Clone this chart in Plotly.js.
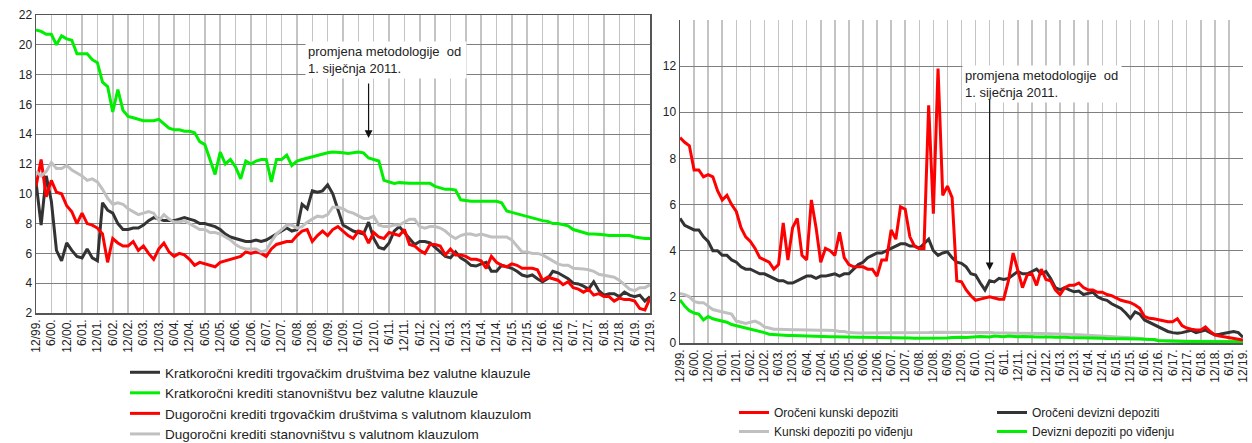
<!DOCTYPE html>
<html>
<head>
<meta charset="utf-8">
<script src="https://cdn.plot.ly/plotly-3.0.1.min.js"></script>
<style>html,body{margin:0;padding:0;background:#fff;}#chart{width:1252px;height:443px;}</style>
</head>
<body>
<div id="chart"></div>
<script>
// Half-year tick labels (12/99 ... 12/19)
const tickLabels = ['12/99.','6/00.','12/00.','6/01.','12/01.','6/02.','12/02.','6/03.','12/03.','6/04.','12/04.','6/05.','12/05.','6/06.','12/06.','6/07.','12/07.','6/08.','12/08.','6/09.','12/09.','6/10.','12/10.','6/11.','12/11.','6/12.','12/12.','6/13.','12/13.','6/14.','12/14.','6/15.','12/15.','6/16.','12/16.','6/17.','12/17.','6/18.','12/18.','6/19.','12/19.'];

// Left panel: lending rates (values every 2 months from 12/99)
const kratkoTrgBezVK = [10.8,7.9,11.2,9.5,6.2,5.5,6.7,6.2,5.8,5.7,
 6.3,5.7,5.5,9.4,8.9,8.7,8.0,7.6,7.6,7.7,
 7.7,7.9,8.2,8.4,8.3,8.2,8.2,8.2,8.3,8.4,
 8.3,8.2,8.0,8.0,7.9,7.8,7.6,7.3,7.1,7.0,
 6.9,6.8,6.8,6.9,6.8,6.9,7.1,7.3,7.5,7.7,
 7.5,7.6,9.3,9.0,10.2,10.1,10.2,10.6,10.0,8.9,
 7.9,7.7,7.5,7.4,7.3,8.1,7.0,6.4,6.3,6.7,
 7.5,7.8,7.4,7.0,6.6,6.8,6.8,6.7,6.4,6.1,
 5.8,5.7,6.1,5.7,5.5,5.2,5.15,5.3,5.4,4.8,
 4.8,5.2,5.1,5.0,4.8,4.55,4.45,4.55,4.3,4.1,
 4.3,4.8,4.7,4.5,4.3,4.0,3.95,3.8,3.6,4.1,
 3.5,3.2,3.3,3.3,3.1,3.4,3.2,3.1,3.2,2.8,3.1];
const kratkoStanBezVK = [21.0,20.9,20.7,20.7,20.0,20.6,20.4,20.3,19.4,19.4,
 19.4,19.0,18.8,17.5,17.2,15.5,17.0,15.6,15.2,15.1,
 15.0,14.9,14.9,14.9,15.0,14.7,14.4,14.3,14.3,14.2,
 14.2,14.1,13.5,13.3,12.3,11.3,12.8,12.0,12.3,11.8,
 11.0,12.2,12.0,12.2,12.3,12.3,10.8,12.3,12.3,12.6,
 11.9,12.2,12.3,12.4,12.5,12.6,12.7,12.75,12.8,12.75,
 12.75,12.7,12.75,12.8,12.75,12.4,12.3,12.2,10.9,10.8,
 10.7,10.75,10.7,10.7,10.7,10.7,10.65,10.7,10.5,10.4,
 10.3,10.3,10.25,9.6,9.55,9.5,9.5,9.5,9.45,9.5,
 9.5,9.4,8.85,8.75,8.65,8.55,8.45,8.35,8.3,8.2,
 8.15,8.0,8.0,7.9,7.85,7.6,7.5,7.35,7.3,7.3,
 7.25,7.25,7.2,7.2,7.2,7.15,7.2,7.1,7.05,7.0,7.0];
const dugoTrgSVK = [10.5,12.3,9.8,10.9,10.1,10.0,9.2,8.8,8.0,8.7,
 8.0,7.9,7.7,7.3,5.4,7.0,6.7,6.5,6.5,6.8,
 6.2,6.5,6.0,5.6,6.3,6.7,6.1,5.8,6.0,5.9,
 5.6,5.2,5.4,5.3,5.2,5.1,5.4,5.5,5.6,5.7,
 5.8,6.1,6.0,6.1,6.0,5.8,6.3,6.6,6.7,6.8,
 6.8,7.2,7.5,7.6,6.8,7.2,7.5,7.2,7.6,7.8,
 7.5,7.2,7.0,7.5,7.4,6.7,7.4,7.1,7.0,7.4,
 7.3,7.2,7.6,6.6,6.5,6.2,6.0,6.6,6.6,6.5,
 5.9,6.3,5.9,5.9,5.8,5.6,5.6,5.5,5.0,5.8,
 5.4,5.2,5.1,5.3,5.2,5.0,5.0,5.0,4.9,4.2,
 4.4,4.3,4.2,3.9,4.1,3.7,3.6,3.4,3.6,3.2,
 3.3,3.1,3.1,2.8,3.0,2.9,2.9,2.8,2.3,2.2,3.0];
const dugoStanSVK = [11.5,11.2,11.5,12.1,11.7,11.7,11.9,11.6,11.4,11.2,
 10.9,11.0,10.8,10.3,9.7,9.3,9.4,9.3,9.0,8.8,
 8.6,8.7,8.8,8.7,8.2,8.6,8.3,8.1,8.1,8.2,
 8.0,7.8,7.6,7.6,7.4,7.4,7.3,7.1,6.9,6.6,
 6.4,6.3,6.3,6.3,6.1,6.2,6.8,7.3,7.6,7.9,
 7.9,7.7,7.8,8.1,8.3,8.5,8.45,8.6,9.1,9.1,
 9.0,8.8,8.7,8.5,8.35,8.35,8.5,7.9,7.8,7.8,
 7.9,7.9,8.1,8.3,8.3,7.8,7.7,7.8,7.8,7.7,
 7.5,7.2,7.0,7.2,7.3,7.3,7.2,7.3,7.2,7.1,
 7.1,7.1,7.1,6.9,6.5,6.1,6.1,6.0,6.0,5.9,
 5.7,5.5,5.3,5.2,5.2,5.0,5.0,4.95,4.9,4.8,
 4.6,4.55,4.5,4.4,4.2,3.9,3.6,3.5,3.7,3.7,3.9];

// Right panel: deposit rates (values every 2 months from 12/99)
const orocKunski = [8.9,8.7,8.55,7.5,7.5,7.2,7.3,7.2,6.6,6.2,
 6.4,6.0,5.7,5.0,4.6,4.4,4.1,3.7,3.6,3.5,
 3.2,3.4,5.2,3.6,5.0,5.4,3.8,3.6,6.2,5.0,
 3.5,4.1,4.0,3.8,4.8,3.7,3.4,3.3,3.3,3.3,
 3.2,3.2,2.9,3.6,3.6,4.9,4.5,5.9,5.8,4.6,
 4.2,4.1,4.1,10.3,5.6,11.9,6.4,6.8,6.3,2.7,
 2.65,2.3,2.05,1.85,1.9,1.95,2.0,1.95,1.9,1.9,
 2.7,3.9,3.1,2.4,2.95,3.0,2.5,3.2,2.75,2.7,
 2.3,2.1,2.4,2.5,2.5,2.6,2.4,2.3,2.3,2.2,
 2.2,2.1,2.05,1.95,1.85,1.8,1.75,1.65,1.5,1.15,
 1.07,1.05,1.0,0.95,0.92,0.92,1.05,0.75,0.65,0.6,
 0.56,0.56,0.7,0.5,0.35,0.3,0.27,0.25,0.2,0.17,0.13];
const orocDevizni = [5.4,5.1,5.0,4.9,4.9,4.6,4.4,4.0,4.0,3.8,
 3.8,3.6,3.5,3.3,3.2,3.2,3.1,3.0,3.0,2.9,
 2.8,2.7,2.7,2.6,2.6,2.7,2.8,2.9,2.9,2.8,
 2.9,2.9,2.95,3.0,2.9,3.0,3.0,3.2,3.4,3.5,
 3.7,3.8,3.9,3.9,4.0,4.1,4.2,4.3,4.3,4.2,
 4.2,4.1,4.3,4.5,4.0,3.8,3.9,3.95,3.7,3.5,
 3.45,3.3,3.0,2.95,2.6,2.3,2.7,2.65,2.8,2.75,
 2.8,2.95,3.1,3.0,3.0,3.1,3.2,3.0,3.1,2.8,
 2.4,2.3,2.4,2.3,2.22,2.25,2.1,2.15,2.2,2.0,
 1.9,1.85,1.7,1.6,1.5,1.3,1.07,1.35,1.25,1.0,
 0.9,0.8,0.7,0.6,0.5,0.45,0.42,0.45,0.5,0.55,
 0.45,0.5,0.56,0.45,0.35,0.38,0.42,0.48,0.5,0.45,0.25];
const kunskiPoVid = [2.15,2.1,2.0,1.8,1.75,1.75,1.6,1.45,1.4,1.35,
 1.3,1.25,0.95,0.9,0.85,0.9,0.95,0.85,0.7,0.65,
 0.6,0.6,0.58,0.58,0.57,0.57,0.56,0.56,0.56,0.55,
 0.55,0.55,0.55,0.54,0.5,0.5,0.45,0.43,0.43,0.43,
 0.43,0.43,0.44,0.44,0.45,0.45,0.45,0.46,0.46,0.45,
 0.45,0.45,0.46,0.46,0.47,0.47,0.48,0.48,0.47,0.47,
 0.46,0.46,0.46,0.45,0.45,0.45,0.45,0.44,0.44,0.44,
 0.44,0.43,0.43,0.43,0.42,0.42,0.42,0.41,0.41,0.4,
 0.4,0.39,0.38,0.38,0.37,0.36,0.35,0.35,0.34,0.33,
 0.32,0.31,0.3,0.29,0.28,0.27,0.25,0.22,0.2,0.18,
 0.16,0.14,0.12,0.11,0.1,0.1,0.09,0.09,0.09,0.08,
 0.08,0.08,0.08,0.07,0.07,0.07,0.07,0.07,0.06,0.06,0.06];
const devizniPoVid = [1.87,1.6,1.4,1.3,1.25,1.0,1.15,1.05,1.0,0.95,
 0.9,0.8,0.75,0.7,0.65,0.6,0.58,0.52,0.45,0.38,
 0.36,0.35,0.34,0.32,0.32,0.31,0.3,0.3,0.29,0.28,
 0.28,0.27,0.27,0.27,0.26,0.26,0.26,0.25,0.25,0.25,
 0.25,0.25,0.25,0.24,0.24,0.23,0.23,0.22,0.22,0.22,
 0.21,0.21,0.22,0.2,0.2,0.19,0.21,0.22,0.24,0.26,
 0.25,0.24,0.26,0.27,0.28,0.27,0.26,0.3,0.28,0.27,
 0.3,0.28,0.27,0.28,0.29,0.27,0.26,0.27,0.25,0.26,
 0.25,0.26,0.25,0.24,0.24,0.23,0.23,0.22,0.22,0.21,
 0.21,0.2,0.2,0.19,0.19,0.18,0.18,0.17,0.17,0.16,
 0.16,0.15,0.1,0.09,0.09,0.08,0.08,0.08,0.07,0.07,
 0.07,0.07,0.06,0.06,0.06,0.06,0.05,0.05,0.05,0.05,0.05];

const annText = 'promjena metodologije  od<br>1. siječnja 2011.';

// month offsets since 12/99 (one sample every 2 months) and tick positions every 6 months
const months = kratkoTrgBezVK.map((_, i) => i * 2);
const tickPos = tickLabels.map((_, i) => i * 6);

const FONT = 'Arial, "Liberation Sans", sans-serif';
function line(name, y, color, xa, ya, leg) {
  return {type:'scatter', mode:'lines', name:name, x:months, y:y, xaxis:xa, yaxis:ya,
    legend:leg, legendgroup:name, line:{color:color, width:3}, hoverinfo:'skip'};
}
const traces = [
  line('Kratkoročni krediti trgovačkim društvima bez valutne klauzule', kratkoTrgBezVK, '#333333', 'x', 'y', 'legend'),
  line('Kratkoročni krediti stanovništvu bez valutne klauzule', kratkoStanBezVK, '#00ee00', 'x', 'y', 'legend'),
  line('Dugoročni krediti trgovačkim društvima s valutnom klauzulom', dugoTrgSVK, '#ff0000', 'x', 'y', 'legend'),
  line('Dugoročni krediti stanovništvu s valutnom klauzulom', dugoStanSVK, '#c0c0c0', 'x', 'y', 'legend'),
  line('Kunski depoziti po viđenju', kunskiPoVid, '#c0c0c0', 'x2', 'y2', 'legend2'),
  line('Devizni depoziti po viđenju', devizniPoVid, '#00ee00', 'x2', 'y2', 'legend3'),
  line('Oročeni devizni depoziti', orocDevizni, '#333333', 'x2', 'y2', 'legend3'),
  line('Oročeni kunski depoziti', orocKunski, '#ff0000', 'x2', 'y2', 'legend2')
];

const W = 1252, H = 443;
const xCommon = {range:[0,240], tickmode:'array', tickvals:tickPos, ticktext:tickLabels,
  tickangle:-90, showgrid:true, gridcolor:'#c4c4c4', gridwidth:1.5, zeroline:false,
  ticks:'', tickfont:{size:12, color:'#222'}, ticklabeloverflow:'allow',
  showline:true, linecolor:'#555', linewidth:1.5};
const legBase = {orientation:'v', xanchor:'left', yanchor:'top', bgcolor:'rgba(0,0,0,0)',
  itemwidth:30, traceorder:'normal'};
const layout = {
  width:W, height:H, margin:{l:0,r:0,t:0,b:0, autoexpand:false},
  paper_bgcolor:'#fff', plot_bgcolor:'#fff',
  font:{family:FONT, size:12, color:'#222'},
  showlegend:true,
  xaxis:Object.assign({}, xCommon, {domain:[36/W, 650/W], anchor:'y', mirror:true}),
  yaxis:{domain:[1-313/H, 1-15/H], anchor:'x', range:[2,22], tickmode:'array',
    tickvals:[2,4,6,8,10,12,14,16,18,20,22], gridcolor:'#7f7f7f', gridwidth:1,
    zeroline:false, showline:true, mirror:true, linecolor:'#555', linewidth:1.5,
    ticks:'', tickfont:{size:12, color:'#222'}},
  xaxis2:Object.assign({}, xCommon, {domain:[680/W, 1243/W], anchor:'y2', mirror:false}),
  yaxis2:{domain:[1-343/H, 1-20/H], anchor:'x2', range:[0,14], tickmode:'array',
    tickvals:[0,2,4,6,8,10,12], gridcolor:'#7f7f7f', gridwidth:1,
    zeroline:false, showline:true, linecolor:'#555', linewidth:1.5,
    ticks:'', tickfont:{size:12, color:'#222'}},
  legend:Object.assign({}, legBase, {x:125/W, y:1-357/H, font:{size:13.5, color:'#222'}, tracegroupgap:2.5}),
  legend2:Object.assign({}, legBase, {x:734/W, y:1-398/H, font:{size:12, color:'#222'}, tracegroupgap:1, traceorder:'reversed'}),
  legend3:Object.assign({}, legBase, {x:992/W, y:1-398/H, font:{size:12, color:'#222'}, tracegroupgap:1, traceorder:'reversed'}),
  annotations:[
    {xref:'x', yref:'y', x:105, y:20.25, xanchor:'left', yanchor:'top', text:annText,
      showarrow:false, align:'left', bgcolor:'#fff', borderpad:2, width:156,
      font:{size:13, color:'#222'}},
    {xref:'x', yref:'y', x:130, y:13.75, ax:0, ay:-56, text:'', showarrow:true,
      arrowhead:2, arrowsize:1.3, arrowwidth:1.2, arrowcolor:'#111'},
    {xref:'x2', yref:'y2', x:120, y:12.05, xanchor:'left', yanchor:'top', text:annText,
      showarrow:false, align:'left', bgcolor:'#fff', borderpad:2, width:154,
      font:{size:13, color:'#222'}},
    {xref:'x2', yref:'y2', x:132, y:3.15, ax:0, ay:-172, text:'', showarrow:true,
      arrowhead:2, arrowsize:1.3, arrowwidth:1.2, arrowcolor:'#111'}
  ]
};
Plotly.newPlot('chart', traces, layout, {staticPlot:true, displayModeBar:false});
</script>
</body>
</html>
